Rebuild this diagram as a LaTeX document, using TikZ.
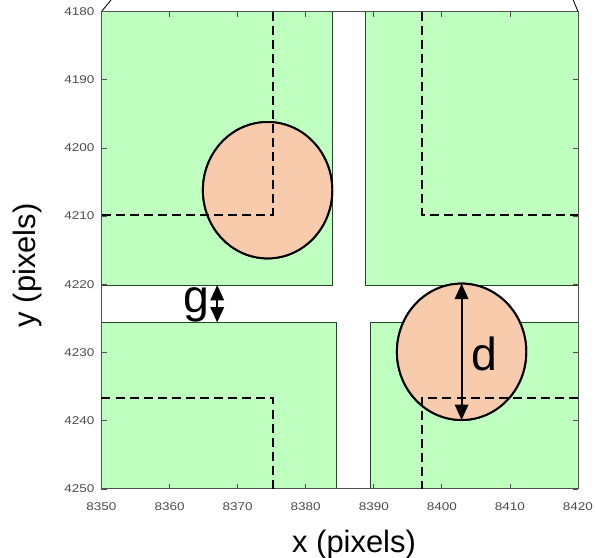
\documentclass[tikz,border=0pt]{standalone}
\usepackage{fontspec}
\setmainfont{Liberation Sans}
\usetikzlibrary{arrows.meta}

\definecolor{padgreen}{RGB}{191,255,191}
\definecolor{dotpeach}{RGB}{248,203,173}
\definecolor{axisgray}{RGB}{80,80,80}

\tikzset{
  pad/.style={fill=padgreen, draw=axisgray!80!green!60!black, line width=0.6pt},
  grain/.style={fill=dotpeach, draw=black, line width=1.4pt},
  gridline/.style={line width=1.4pt, dash pattern=on 6.4pt off 3.6pt},
  span/.style={line width=1.4pt, {Triangle[width=9.6pt,length=11pt]}-{Triangle[width=9.6pt,length=11pt]}},
  ticklabel/.style={inner sep=0pt, text=black!70, xscale=1.2, font=\fontsize{8}{9.6}\selectfont},
  axislabel/.style={inner sep=0pt, font=\fontsize{22}{26}\selectfont},
  marklabel/.style={inner sep=0pt, font=\fontsize{33}{38}\selectfont}
}

\begin{document}
\begin{tikzpicture}[
    % one unit is one pixel of the image, counted from (8350,4180)
    x={(0.1702cm,0cm)},
    y={(0cm,-0.1705cm)}
]
    \useasboundingbox (-14.91,-1.69) rectangle (72.5,80.13);

    % --- Corners of the axes box ---
    \coordinate (NW) at (0,0);
    \coordinate (NE) at (70,0);
    \coordinate (SW) at (0,70);
    \coordinate (SE) at (70,70);

    % zoom lines leaving the top corners
    \coordinate (NWout) at (1.4,-1.69);
    \coordinate (NEout) at (69.3,-1.69);
    \draw[line width=0.6pt] (NW) -- (NWout);
    \draw[line width=0.6pt] (NE) -- (NEout);

    % --- The four pads ---
    \fill[pad] (0,0) rectangle (33.9,40.1);
    \fill[pad] (38.8,0) rectangle (70,40.1);
    \fill[pad] (0,45.6) rectangle (34.45,70);
    \fill[pad] (39.45,45.6) rectangle (70,70);
    \draw[pad] (0,0) rectangle (33.9,40.1);
    \draw[pad] (38.8,0) rectangle (70,40.1);
    \draw[pad] (0,45.6) rectangle (34.45,70);
    \draw[pad] (39.45,45.6) rectangle (70,70);

    % --- Axes box and ticks ---
    \draw[axisgray, line width=0.6pt] (NW) rectangle (SE);
    \foreach \k in {0,...,7}{
        \draw[axisgray, line width=0.5pt] (10*\k,70) -- ++(0,-0.75);
        \draw[axisgray, line width=0.5pt] (10*\k,0) -- ++(0,0.75);
        \draw[axisgray, line width=0.5pt] (0,10*\k) -- ++(0.75,0);
        \draw[axisgray, line width=0.5pt] (70,10*\k) -- ++(-0.75,0);
        \pgfmathtruncatemacro{\xv}{8350+10*\k}
        \pgfmathtruncatemacro{\yv}{4180+10*\k}
        \node[ticklabel, anchor=north] (xt\k) at (10*\k,72.0) {\xv};
        \node[ticklabel, anchor=east] (yt\k) at (-1.0,10*\k) {\yv};
    }
    \node[axislabel] (xlab) at (37.1,78.2) {x (pixels)};
    \node[axislabel, rotate=90] (ylab) at (-10.8,37.2) {y (pixels)};

    % --- Grains ---
    \fill[grain] (24.4,26.2) ellipse [x radius=9.5, y radius=10];
    \draw[grain] (24.4,26.2) ellipse [x radius=9.5, y radius=10];
    \fill[grain] (52.9,49.9) ellipse [x radius=9.5, y radius=10];
    \draw[grain] (52.9,49.9) ellipse [x radius=9.5, y radius=10];

    % --- Dashed grid lines ---
    \draw[gridline] (25.15,0) -- (25.15,29.84) -- (0,29.84);
    \draw[gridline] (47.13,0) -- (47.13,29.84) -- (70,29.84);
    \draw[gridline] (0,56.67) -- (25.15,56.67) -- (25.15,70);
    \draw[gridline] (70,56.67) -- (47.13,56.67) -- (47.13,70);

    % --- Gap and diameter ---
    \coordinate (gtop) at (17.0,40.1);
    \coordinate (gbot) at (17.0,45.6);
    \draw[span] (gtop) -- (gbot);
    \node[marklabel, anchor=base] (glab) at (13.9,44.2) {g};

    \coordinate (dtop) at (52.9,39.9);
    \coordinate (dbot) at (52.9,59.9);
    \draw[span] (dtop) -- (dbot);
    \node[marklabel, anchor=base] (dlab) at (56.3,52.6) {d};
\end{tikzpicture}
\end{document}
